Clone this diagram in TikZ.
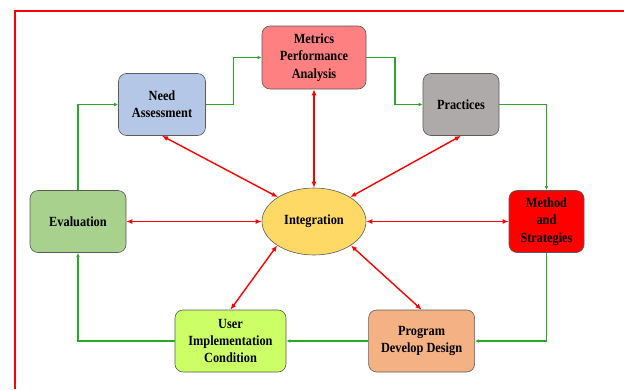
\documentclass[tikz,border=0pt]{standalone}
\usepackage{fontspec}
\setmainfont{Liberation Serif}[FakeStretch=0.88]
\usetikzlibrary{arrows.meta,shapes.geometric}
\definecolor{grn}{RGB}{40,170,40}
\definecolor{cmetrics}{RGB}{255,128,128}
\definecolor{cneed}{RGB}{180,199,231}
\definecolor{cprac}{RGB}{174,170,170}
\definecolor{ceval}{RGB}{169,209,142}
\definecolor{cinteg}{RGB}{255,217,102}
\definecolor{cmethod}{RGB}{255,0,0}
\definecolor{cuser}{RGB}{204,255,102}
\definecolor{cprog}{RGB}{244,177,131}
\definecolor{bord}{RGB}{90,90,90}
\begin{document}
\begin{tikzpicture}[x=1pt,y=-1pt,
  lbl/.style={align=center,font=\bfseries\fontsize{14}{17.3}\selectfont,inner sep=0pt},
  box/.style={lbl,draw=bord,line width=0.6pt,rounded corners=8pt,minimum height=62pt},
  flow/.style={draw=grn,line width=1.1pt,-{Latex[length=4pt,width=3.5pt]}},
  link/.style={draw=red,line width=1.4pt,{Latex[length=6pt,width=5pt]}-{Latex[length=6pt,width=5pt]}}]
\useasboundingbox (0,0) rectangle (624,389);
\draw[red,line width=1.8pt] (15,389) -- (15,10.7) -- (624,10.7);

\node[box,fill=cmetrics,minimum width=104pt,minimum height=63pt] (metrics) at (314,57.5) {Metrics\\Performance\\Analysis};
\node[box,fill=cneed,minimum width=87pt] (need) at (162,104.5) {Need\\Assessment};
\node[box,fill=cprac,minimum width=76pt] (prac) at (461,104.5) {Practices};
\node[box,fill=ceval,minimum width=96pt] (eval) at (78,221.5) {Evaluation};
\node[lbl,ellipse,draw=bord,line width=0.6pt,fill=cinteg,minimum width=104pt,minimum height=67pt] (integ) at (314,221.5) {Integration};
\node[box,fill=cmethod,minimum width=75pt] (method) at (546.5,221.5) {Method\\and\\Strategies};
\node[box,fill=cuser,minimum width=111pt] (user) at (230.5,341) {User\\Implementation\\Condition};
\node[box,fill=cprog,minimum width=106pt] (prog) at (421.6,341) {Program\\Develop Design};

\draw[flow] (eval.north) |- (need.west);
\draw[flow] (need.east) -- ++(28,0) |- (metrics.west);
\draw[flow] (metrics.east) -- ++(28.7,0) |- (prac.west);
\draw[flow] (prac.east) -| (method.north);
\draw[flow] (method.south) |- (prog.east);
\draw[flow] (prog.west) -- (user.east);
\draw[flow] (user.west) -| (eval.south);

\draw[link] (need.south) -- (integ.146);
\draw[link] (metrics.south) -- (integ.north);
\draw[link] (prac.south) -- (integ.34);
\draw[link] (eval.east) -- (integ.west);
\draw[link] (integ.east) -- (method.west);
\draw[link] (integ.213) -- (user.north);
\draw[link] (integ.-33) -- (prog.north);
\end{tikzpicture}
\end{document}
